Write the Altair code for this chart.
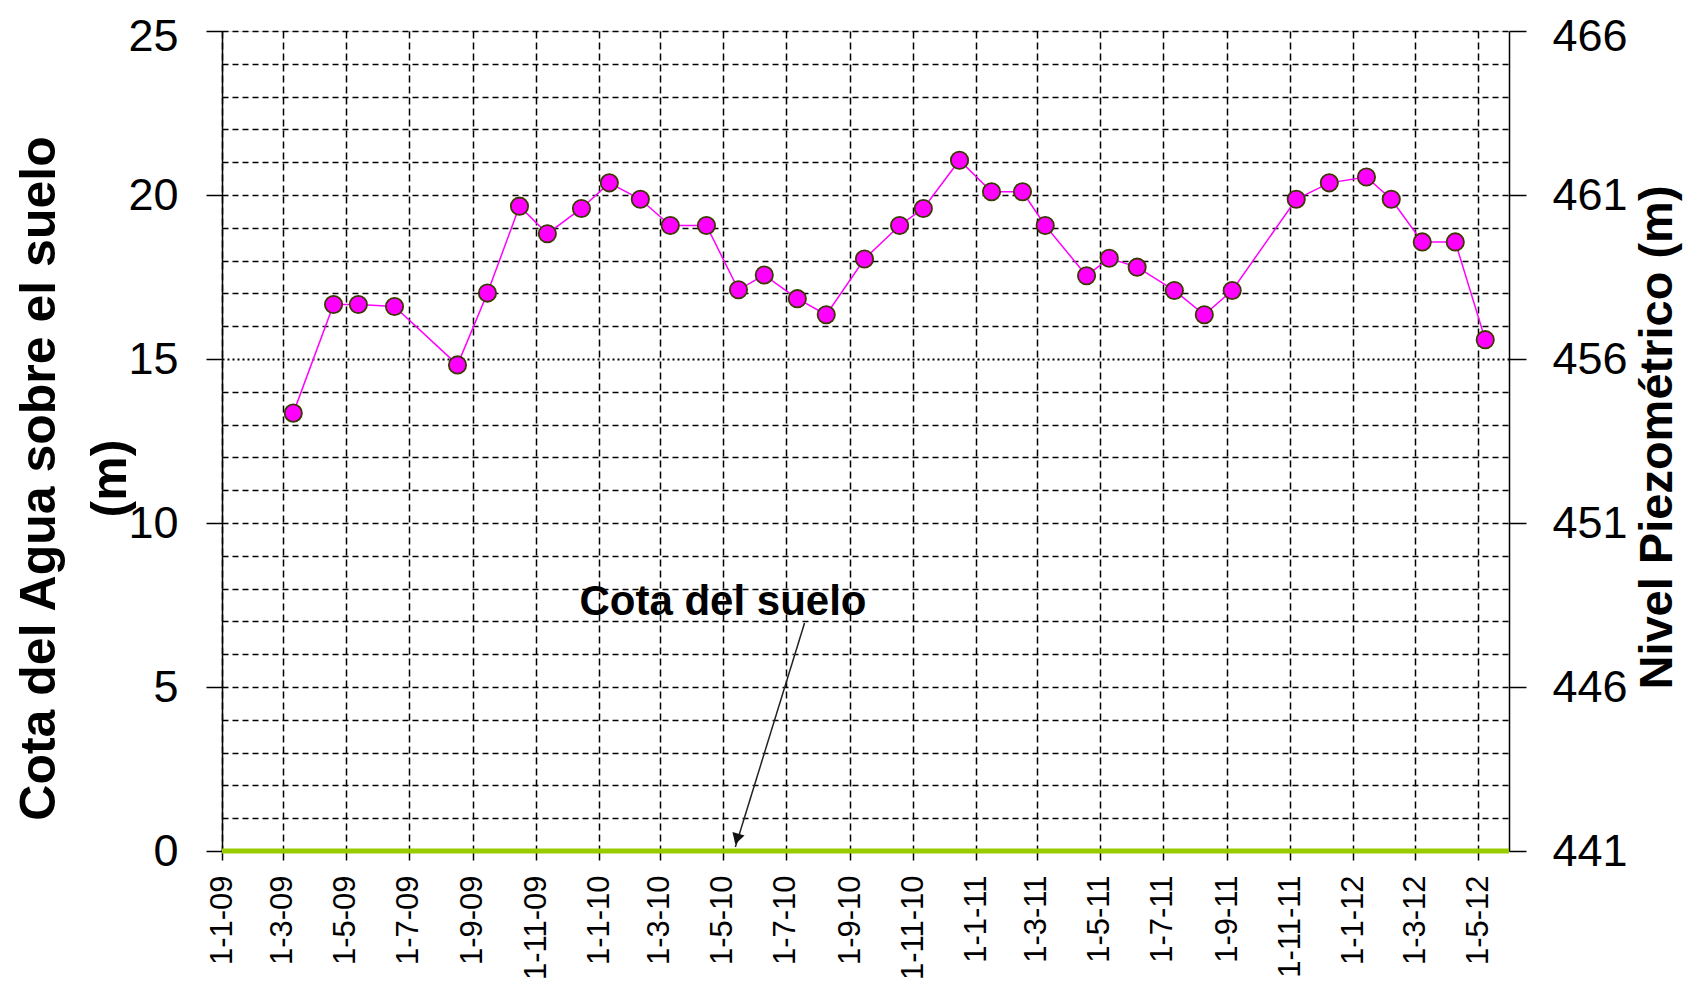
import altair as alt
import pandas as pd

# --- data ---
fechas = [
    "2009-03-11", "2009-04-19", "2009-05-13", "2009-06-17", "2009-08-17",
    "2009-09-15", "2009-10-16", "2009-11-12", "2009-12-15", "2010-01-11",
    "2010-02-10", "2010-03-11", "2010-04-15", "2010-05-16", "2010-06-10",
    "2010-07-12", "2010-08-09", "2010-09-15", "2010-10-19", "2010-11-11",
    "2010-12-16", "2011-01-16", "2011-02-15", "2011-03-09", "2011-04-18",
    "2011-05-10", "2011-06-06", "2011-07-12", "2011-08-10", "2011-09-06",
    "2011-11-07", "2011-12-09", "2012-01-14", "2012-02-07", "2012-03-08",
    "2012-04-09", "2012-05-08",
]
cotas = [
    13.35, 16.66, 16.66, 16.60, 14.82,
    17.01, 19.66, 18.82, 19.59, 20.37,
    19.87, 19.07, 19.07, 17.11, 17.56,
    16.84, 16.35, 18.05, 19.07, 19.59,
    21.06, 20.10, 20.10, 19.07, 17.54,
    18.07, 17.80, 17.09, 16.35, 17.09,
    19.87, 20.37, 20.55, 19.87, 18.57,
    18.57, 15.59,
]

# x-axis tick dates (year, month), every two months
tick_meses = [
    (2009, 1), (2009, 3), (2009, 5), (2009, 7), (2009, 9), (2009, 11),
    (2010, 1), (2010, 3), (2010, 5), (2010, 7), (2010, 9), (2010, 11),
    (2011, 1), (2011, 3), (2011, 5), (2011, 7), (2011, 9), (2011, 11),
    (2012, 1), (2012, 3), (2012, 5),
]
y_ticks = list(range(0, 26))
niveles = [441, 446, 451, 456, 461, 466]

# ground level line (Cota del suelo)
suelo_inicio = ["2009-01-01T00:00:00"]
suelo_fin = ["2012-05-31T00:00:00"]
suelo_nivel = [441]

# annotation
anot_texto = ["Cota del suelo"]
anot_fecha = ["2010-05-01T00:00:00"]
anot_cota = [7.2]
flecha_desde = ["2010-07-19T00:00:00"]
flecha_desde_cota = [6.95]
flecha_hasta = ["2010-05-13T00:00:00"]
flecha_hasta_cota = [0.12]
punta_fecha = ["2010-05-15T00:00:00"]
punta_cota = [0.42]

FONT = "Liberation Sans"

df = pd.DataFrame({"fecha": [f + "T00:00:00" for f in fechas], "cota": cotas})
df_suelo = pd.DataFrame({"inicio": suelo_inicio, "fin": suelo_fin, "nivel": suelo_nivel})
df_txt = pd.DataFrame({"fecha": anot_fecha, "cota": anot_cota, "texto": anot_texto})
df_flecha = pd.DataFrame({"fecha": flecha_desde, "cota": flecha_desde_cota,
                          "fecha2": flecha_hasta, "cota2": flecha_hasta_cota})
df_punta = pd.DataFrame({"fecha": punta_fecha, "cota": punta_cota})

x_scale = alt.Scale(domain=[alt.DateTime(year=2009, month=1, date=1),
                            alt.DateTime(year=2012, month=5, date=31)])
x_axis = alt.Axis(
    values=[alt.DateTime(year=y, month=m, date=1) for y, m in tick_meses],
    format="%-d-%-m-%y",
    labelAngle=270,
    labelFont=FONT, labelFontSize=31, labelColor="black",
    labelPadding=15, labelFlush=False, labelOverlap=False,
    tickSize=9, tickColor="black", tickWidth=1.5,
    grid=True, gridColor="black", gridWidth=1.5, gridDash=[7, 4],
    domain=False, title=None,
)
x_enc = alt.X("fecha:T", scale=x_scale, axis=x_axis)

y_scale = alt.Scale(domain=[0, 25], nice=False, zero=False)
y_axis = alt.Axis(
    values=y_ticks,
    labelExpr="datum.value % 5 == 0 ? datum.label : ''",
    labelOverlap=False,
    labelFont=FONT, labelFontSize=45, labelColor="black", labelPadding=28,
    labelOffset={"condition": {"test": "datum.value == 25", "value": 5}, "value": 0},
    tickSize=16, tickColor="black", tickWidth=1.5,
    tickOpacity={"condition": {"test": "datum.value % 5 == 0", "value": 1}, "value": 0},
    grid=True, gridColor="black",
    gridWidth={"condition": {"test": "datum.value == 15", "value": 2}, "value": 1.5},
    gridDash={"condition": {"test": "datum.value == 15", "value": [2, 3]}, "value": [6, 4]},
    domainColor="black", domainWidth=1.5,
    title=["Cota del Agua sobre el suelo", "(m)"],
    titleFont=FONT, titleFontSize=50, titleFontWeight="bold", titleColor="black",
    titleAngle=270, titleLineHeight=71,
    titleX=-183, titleY=447, titleBaseline="middle", titleAlign="center",
)
y_enc = alt.Y("cota:Q", scale=y_scale, axis=y_axis)

linea = alt.Chart(df).mark_line(color="#FF00FF", strokeWidth=1.5).encode(x=x_enc, y=y_enc)
puntos = alt.Chart(df).mark_point(
    shape="circle", filled=True, fill="#FF00FF", stroke="#3A3A00",
    strokeWidth=1.8, size=300, opacity=1,
).encode(x=x_enc, y=y_enc)

texto = alt.Chart(df_txt).mark_text(
    font=FONT, fontSize=42, fontWeight="bold", color="black",
    align="center", baseline="alphabetic",
).encode(x=x_enc, y=y_enc, text="texto:N")

flecha = alt.Chart(df_flecha).mark_rule(color="#222222", strokeWidth=1.5).encode(
    x=x_enc, y=y_enc, x2="fecha2:T", y2="cota2:Q")
punta = alt.Chart(df_punta).mark_point(
    shape="triangle", filled=True, color="#111111", size=160, angle=197, opacity=1,
).encode(x=x_enc, y=y_enc)

izquierda = alt.layer(linea, puntos, texto, flecha, punta)

right_axis = alt.Axis(
    orient="right", values=niveles,
    labelFont=FONT, labelFontSize=45, labelColor="black", labelPadding=26,
    labelOffset={"condition": {"test": "datum.value == 466", "value": 5}, "value": 0},
    tickSize=17, tickColor="black", tickWidth=1.5,
    grid=False, domainColor="black", domainWidth=1.5,
    title="Nivel Piezométrico (m)",
    titleFont=FONT, titleFontSize=47, titleFontWeight="bold", titleColor="black",
    titleAngle=270, titleX=148, titleY=406, titleBaseline="middle", titleAlign="center",
)
suelo = alt.Chart(df_suelo).mark_rule(color="#99CC00", strokeWidth=5).encode(
    x=alt.X("inicio:T", scale=x_scale, axis=x_axis),
    x2="fin:T",
    y=alt.Y("nivel:Q", scale=alt.Scale(domain=[441, 466], nice=False, zero=False), axis=right_axis),
)

chart = alt.layer(izquierda, suelo).resolve_scale(y="independent").properties(
    width=1287, height=820,
    autosize=alt.AutoSizeParams(type="none"),
    padding={"left": 214, "top": 23, "right": 176, "bottom": 132},
).configure_view(stroke="black", strokeWidth=1.5).configure(background="white")

chart.save("out.html", embed_options={"renderer": "svg", "actions": False})
